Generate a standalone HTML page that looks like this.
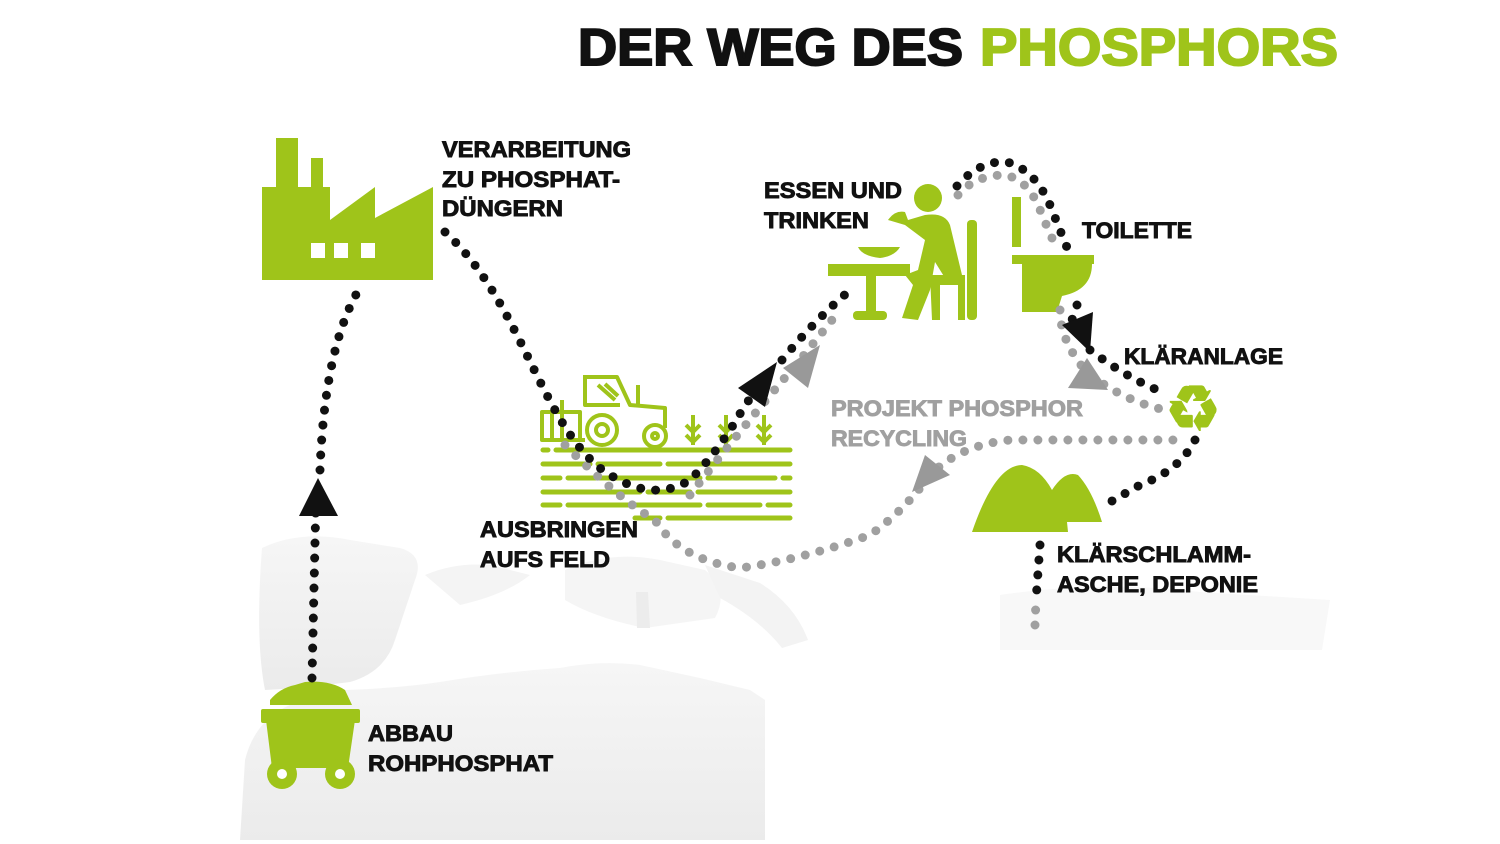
<!DOCTYPE html>
<html><head><meta charset="utf-8"><style>
html,body{margin:0;padding:0;background:#fff}
svg{display:block}
text{font-family:"Liberation Sans",sans-serif;font-weight:bold}
</style></head><body>
<svg width="1500" height="844" viewBox="0 0 1500 844" xmlns="http://www.w3.org/2000/svg">
<defs>
<linearGradient id="fade" x1="0" y1="0" x2="0" y2="1">
<stop offset="0" stop-color="#f6f6f6"/><stop offset="1" stop-color="#ebebeb"/>
</linearGradient>
</defs>
<!-- map -->
<g fill="url(#fade)">
<path d="M262,548 Q300,530 350,540 L400,548 Q425,555 415,580 L395,640 Q385,672 350,682 L300,688 L265,690 Q255,640 262,548 Z"/>
<path d="M240,840 L245,760 Q255,720 290,705 L345,690 Q400,688 440,682 Q500,672 560,668 Q600,660 640,665 L700,678 L750,690 L765,700 L765,840 Z"/>
<path d="M425,575 Q455,562 490,565 L530,575 Q505,595 460,605 Z" fill="#f4f4f4"/>
<path d="M565,570 Q610,550 660,560 L705,570 Q730,590 715,618 L645,628 Q595,618 565,600 Z" fill="#f5f5f5"/>
<path d="M705,565 L760,583 Q795,605 808,640 L782,648 Q760,620 720,598 Z" fill="#f3f3f3"/>
<path d="M636,592 L648,592 L650,628 L637,628 Z" fill="#ececec"/>
<path d="M1000,595 Q1100,580 1200,592 L1330,600 L1322,650 L1000,650 Z" fill="#f8f8f8"/>
</g>
<!-- title -->
<text x="578" y="65" font-size="52" textLength="385" lengthAdjust="spacingAndGlyphs" fill="#111" stroke="#111" stroke-width="2">DER WEG DES</text>
<text x="980" y="65" font-size="52" textLength="358" lengthAdjust="spacingAndGlyphs" fill="#9fc41a" stroke="#9fc41a" stroke-width="2">PHOSPHORS</text>

<!-- factory -->
<g fill="#9fc41a">
<rect x="276" y="138" width="22" height="60"/>
<rect x="311" y="158" width="12" height="40"/>
<path d="M262,187 L330,187 L330,220 L375,187 L375,218 L433,187 L433,280 L262,280 Z"/>
</g>
<g fill="#fff"><rect x="311" y="243" width="14" height="15"/><rect x="334" y="243" width="14" height="15"/><rect x="361" y="243" width="14" height="15"/></g>

<!-- cart -->
<g fill="#9fc41a">
<path d="M270,700 Q280,688 295,685 L305,682 Q330,680 345,690 L352,705 L270,705 Z"/>
<rect x="261" y="709" width="99" height="14" rx="2"/>
<path d="M266,720 L355,720 L348,768 L272,768 Z"/>
<circle cx="282" cy="774" r="15"/><circle cx="340" cy="774" r="15"/>
</g>
<circle cx="282" cy="774" r="5" fill="#fff"/><circle cx="340" cy="774" r="5" fill="#fff"/>

<!-- field / tractor -->
<g stroke="#9fc41a" stroke-width="5" stroke-linecap="round" fill="none">
<path d="M543,450 L548,450 M556,450 L790,450"/>
<path d="M543,464 L590,464 M598,464 L660,464 M668,464 L790,464"/>
<path d="M543,478 L560,478 M568,478 L700,478 M708,478 L775,478 M783,478 L790,478"/>
<path d="M543,492 L640,492 M648,492 L690,492 M698,492 L790,492"/>
<path d="M543,505 L560,505 M568,505 L700,505 M708,505 L760,505 M768,505 L790,505"/>
<path d="M635,518 L660,518 M668,518 L790,518"/>
</g>
<g stroke="#9fc41a" stroke-width="4" fill="none" stroke-linejoin="round">
<path d="M562,400 L562,440 L585,440 M583,377 L617,377 L630,405 L665,408 L665,428 M585,377 L585,405 L620,405"/>
<path d="M542,412 L580,412 L580,440 L542,440 Z M552,412 L552,440 M562,412 L562,440"/>
<circle cx="602" cy="430" r="15"/><circle cx="602" cy="430" r="6"/>
<circle cx="655" cy="436" r="11"/><circle cx="655" cy="436" r="3"/>
<path d="M598,385 L615,400 M605,384 L618,396"/>
<path d="M638,385 L638,405"/>
<path d="M693,415 L693,445 M686,425 L693,432 L700,425 M686,435 L693,442 L700,435"/>
<path d="M726,415 L726,445 M719,425 L726,432 L733,425 M719,435 L726,442 L733,435"/>
<path d="M764,415 L764,445 M757,425 L764,432 L771,425 M757,435 L764,442 L771,435"/>
</g>

<!-- eating -->
<g fill="#9fc41a">
<circle cx="928" cy="198" r="14"/>
<rect x="828" y="264" width="82" height="12"/>
<rect x="866" y="274" width="10" height="42"/>
<rect x="853" y="311" width="34" height="9" rx="4"/>
<path d="M858,247 L900,247 Q895,256 880,258 Q862,256 858,247 Z"/>
<path d="M888,220 Q895,210 905,212 L908,220 L925,215 Q945,212 950,225 L962,275 L945,278 L935,262 L930,290 L918,320 L902,318 L913,285 L905,275 L918,270 L925,240 L905,225 Z"/>
<path d="M930,275 L965,275 L965,320 L958,320 L958,285 L940,285 L940,320 L932,320 Z"/>
<rect x="967" y="220" width="10" height="100" rx="4"/>
</g>
<!-- toilet -->
<g fill="#9fc41a">
<rect x="1012" y="197" width="9" height="50"/>
<rect x="1012" y="255" width="82" height="9"/>
<path d="M1022,264 L1092,264 Q1092,290 1062,296 L1057,312 L1022,312 Z"/>
</g>
<!-- recycle -->
<text x="1193" y="430" font-size="62" text-anchor="middle" fill="#9fc41a" font-family="DejaVu Sans" font-weight="normal">♻</text>
<!-- mounds -->
<path d="M972,532 Q995,465 1022,465 Q1040,468 1052,490 Q1065,470 1078,475 Q1092,490 1102,522 L1067,522 L1068,532 Z" fill="#9fc41a"/>

<!-- dotted paths -->
<g fill="none" stroke-linecap="round" stroke-dasharray="0 15" stroke-width="9">
<g stroke="#a0a0a0">
<path d="M565,445 Q620,500 655,520 Q680,560 740,568 Q800,560 870,535 Q905,510 930,475 Q960,445 1010,440 L1178,440"/>
<path d="M690,495 Q740,430 800,360 L840,310"/>
<path d="M958,195 Q975,175 1005,175 Q1030,180 1042,215 L1055,245"/>
<path d="M1060,310 Q1060,340 1085,370 Q1120,400 1165,410"/>
<path d="M1035,625 L1036,600"/>
</g>
<g stroke="#111">
<path d="M312,678 L316,498"/>
<path d="M320,470 Q325,340 363,283"/>
<path d="M445,232 C520,300 540,420 600,468 Q650,505 690,480 Q720,450 745,405 L765,380"/>
<path d="M782,360 Q815,320 848,292"/>
<path d="M957,186 Q980,160 1007,162 Q1035,170 1050,205 L1068,250"/>
<path d="M1077,305 L1072,320 M1090,350 Q1130,380 1165,393"/>
<path d="M1195,440 Q1180,470 1140,485 L1105,505"/>
<path d="M1040,545 L1036,600"/>
</g>
</g>
<!-- arrowheads -->
<polygon points="318,478 299,516 338,516" fill="#111"/>
<polygon points="777,362 738,388 765,407" fill="#111"/>
<polygon points="820,345 783,368 808,388" fill="#999"/>
<polygon points="1093,312 1062,325 1090,352" fill="#111"/>
<polygon points="1087,358 1068,388 1108,390" fill="#999"/>
<polygon points="912,492 950,475 925,455" fill="#999"/>

<!-- labels -->
<g font-size="22" fill="#111" stroke="#111" stroke-width="0.9">
<text x="442" y="157" textLength="189" lengthAdjust="spacingAndGlyphs">VERARBEITUNG</text>
<text x="442" y="187" textLength="178" lengthAdjust="spacingAndGlyphs">ZU PHOSPHAT-</text>
<text x="442" y="216" textLength="121" lengthAdjust="spacingAndGlyphs">DÜNGERN</text>
<text x="764" y="198" textLength="138" lengthAdjust="spacingAndGlyphs">ESSEN UND</text>
<text x="764" y="228" textLength="105" lengthAdjust="spacingAndGlyphs">TRINKEN</text>
<text x="1082" y="238" textLength="110" lengthAdjust="spacingAndGlyphs">TOILETTE</text>
<text x="1124" y="364" textLength="159" lengthAdjust="spacingAndGlyphs">KLÄRANLAGE</text>
<text x="1057" y="562" textLength="194" lengthAdjust="spacingAndGlyphs">KLÄRSCHLAMM-</text>
<text x="1057" y="592" textLength="201" lengthAdjust="spacingAndGlyphs">ASCHE, DEPONIE</text>
<text x="480" y="537" textLength="158" lengthAdjust="spacingAndGlyphs">AUSBRINGEN</text>
<text x="480" y="567" textLength="130" lengthAdjust="spacingAndGlyphs">AUFS FELD</text>
<text x="368" y="741" textLength="85" lengthAdjust="spacingAndGlyphs">ABBAU</text>
<text x="368" y="771" textLength="185" lengthAdjust="spacingAndGlyphs">ROHPHOSPHAT</text>
</g>
<g font-size="22" fill="#a0a0a0" stroke="#a0a0a0" stroke-width="0.9">
<text x="831" y="416" textLength="252" lengthAdjust="spacingAndGlyphs">PROJEKT PHOSPHOR</text>
<text x="831" y="446" textLength="136" lengthAdjust="spacingAndGlyphs">RECYCLING</text>
</g>
</svg>
</body></html>
